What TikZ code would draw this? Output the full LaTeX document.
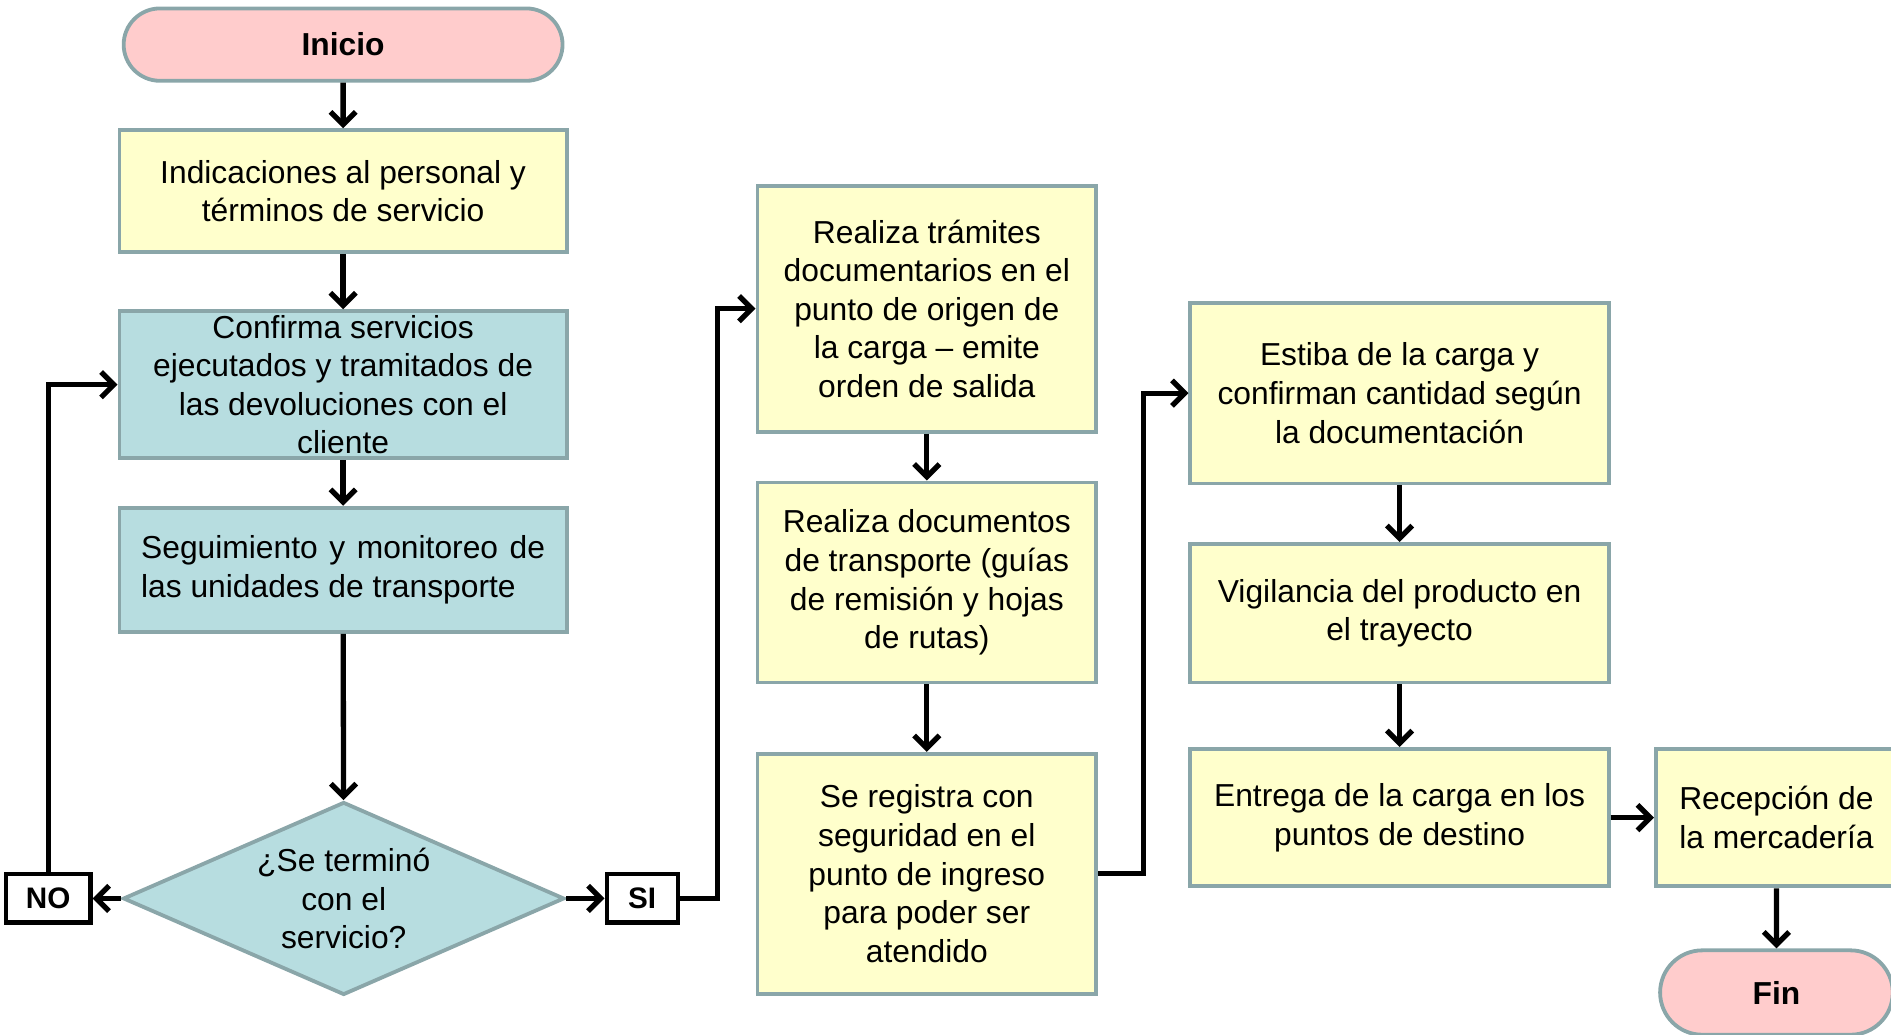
\documentclass[tikz,border=0pt]{standalone}
\usepackage{fontspec}
\setmainfont{Liberation Sans}
\usetikzlibrary{shapes.geometric,shapes.misc,arrows.meta}
\definecolor{bordc}{HTML}{8AA6A9}
\definecolor{pinkf}{HTML}{FFCCCC}
\definecolor{yelf}{HTML}{FFFFCC}
\definecolor{bluef}{HTML}{B7DDE0}
\begin{document}
\begin{tikzpicture}[x=0.02cm,y=-0.02cm,
  base/.style={draw=bordc, line width=1.8pt, align=center, inner sep=2pt,
    font=\fontsize{15}{18.2}\selectfont},
  ybox/.style={base, rectangle, fill=yelf},
  bbox/.style={base, rectangle, fill=bluef},
  term/.style={base, rounded rectangle, fill=pinkf, font=\fontsize{15}{18}\selectfont\bfseries},
  dec/.style={base, diamond, aspect=2.29, fill=bluef, inner sep=0pt},
  lab/.style={draw=black, line width=2pt, fill=white, rectangle, inner sep=0pt,
    font=\fontsize{14}{16}\selectfont\bfseries},
  arr/.style={line width=2.5pt, -{Straight Barb[length=6pt,width=12pt]}}
]
\useasboundingbox (0,0) rectangle (1568,858);

\node[term, minimum width=7.42cm, minimum height=1.2cm] (inicio) at (284.5,37) {Inicio};
\node[ybox, minimum width=7.42cm, minimum height=2.02cm] (b1) at (284.5,158.5)
  {Indicaciones al personal y\\términos de servicio};
\node[bbox, minimum width=7.42cm, minimum height=2.44cm, inner ysep=0pt] (b2) at (284.5,319)
  {Confirma servicios\\ejecutados y tramitados de\\las devoluciones con el\\cliente};
\node[bbox, minimum width=7.42cm, minimum height=2.06cm, text width=6.7cm, align=justify] (b3) at (284.5,472.5)
  {Seguimiento y monitoreo de las unidades de transporte};
\node[dec, minimum width=7.32cm, minimum height=3.2cm] (dia) at (285,745)
  {¿Se terminó\\con el\\servicio?};
\node[lab, minimum width=1.4cm, minimum height=0.8cm] (no) at (40,745) {NO};
\node[lab, minimum width=1.18cm, minimum height=0.8cm] (si) at (532.5,745) {SI};

\node[ybox, minimum width=5.62cm, minimum height=4.08cm] (b4) at (768.5,256)
  {Realiza trámites\\documentarios en el\\punto de origen de\\la carga – emite\\orden de salida};
\node[ybox, minimum width=5.62cm, minimum height=3.32cm] (b5) at (768.5,483)
  {Realiza documentos\\de transporte (guías\\de remisión y hojas\\de rutas)};
\node[ybox, minimum width=5.62cm, minimum height=3.98cm] (b6) at (768.5,724.5)
  {Se registra con\\seguridad en el\\punto de ingreso\\para poder ser\\atendido};

\node[ybox, minimum width=6.94cm, minimum height=3.0cm] (b7) at (1160.5,326)
  {Estiba de la carga y\\confirman cantidad según\\la documentación};
\node[ybox, minimum width=6.94cm, minimum height=2.3cm] (b8) at (1160.5,508.5)
  {Vigilancia del producto en\\el trayecto};
\node[ybox, minimum width=6.94cm, minimum height=2.28cm] (b9) at (1160.5,678)
  {Entrega de la carga en los\\puntos de destino};
\node[ybox, minimum width=4.0cm, minimum height=2.28cm] (b10) at (1473,678)
  {Recepción de\\la mercadería};
\node[term, minimum width=4.0cm, minimum height=1.4cm] (fin) at (1473,823) {Fin};

\coordinate (siturn) at (595,745);
\coordinate (b6turn) at (948,724.5);

\draw[arr] (inicio) -- (b1);
\draw[arr] (b1) -- (b2);
\draw[arr] (b2) -- (b3);
\draw[arr] (b3) -- (dia);
\draw[arr] (dia.west) -- (no.east);
\draw[arr] (dia.east) -- (si.west);
\draw[arr] (no.north) |- (b2.west);
\draw[arr] (si.east) -- (siturn) |- (b4.west);
\draw[arr] (b4) -- (b5);
\draw[arr] (b5) -- (b6);
\draw[arr] (b6.east) -- (b6turn) |- (b7.west);
\draw[arr] (b7) -- (b8);
\draw[arr] (b8) -- (b9);
\draw[arr] (b9) -- (b10);
\draw[arr] (b10) -- (fin);
\end{tikzpicture}
\end{document}
